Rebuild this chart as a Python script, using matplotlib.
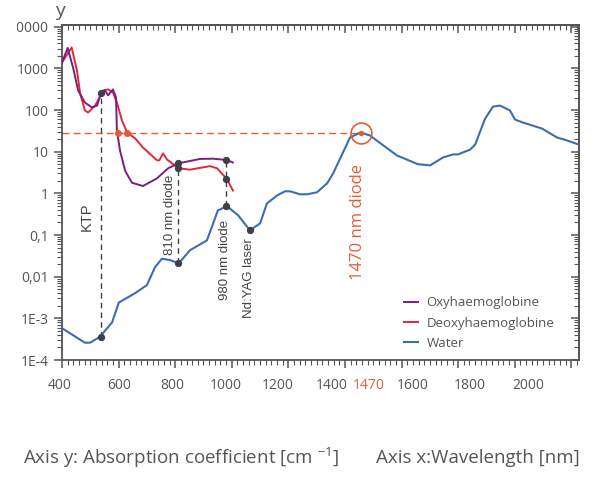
import numpy as np
import matplotlib
matplotlib.use("Agg")
import matplotlib.pyplot as plt
from matplotlib.ticker import FixedLocator, MultipleLocator, NullFormatter, LogLocator
from matplotlib.transforms import Bbox

plt.rcParams['font.family'] = ['Open Sans', 'DejaVu Sans']
plt.rcParams['mathtext.default'] = 'regular'

# water absorption
water_nm = [400, 481, 499, 534, 577, 601, 633, 658, 700, 729, 753, 782, 813, 852, 881, 912,
            951, 983, 1022, 1064, 1100, 1124, 1160, 1188, 1206, 1241, 1266, 1301, 1337, 1358,
            1393, 1418, 1455, 1488, 1584, 1658, 1701, 1747, 1782, 1799, 1842, 1860, 1895,
            1923, 1948, 1983, 2001, 2029, 2096, 2149, 2185, 2227]
water_val = [5.8e-4, 2.6e-4, 2.6e-4, 3.6e-4, 8e-4, 2.4e-3, 3.2e-3, 4e-3, 6.3e-3, 0.017, 0.027,
             0.025, 0.021, 0.043, 0.056, 0.074, 0.39, 0.49, 0.3, 0.13, 0.19, 0.57, 0.89, 1.12,
             1.12, 0.95, 0.95, 1.06, 1.74, 3.0, 9.6, 22, 29, 24.5, 8.1, 5.0, 4.7, 7.3, 8.6, 8.6,
             11.2, 14.8, 62, 121, 128, 98, 59, 50, 36, 22, 18.6, 14.8]

oxy_nm = [400, 420, 439, 457, 481, 506, 524, 537, 552, 563, 580, 591, 594, 605, 623, 647,
          686, 736, 775, 813, 888, 934, 983, 1004]
oxy_val = [1380, 3100, 1050, 295, 151, 115, 128, 250, 295, 225, 313, 201, 32, 10.7, 3.5, 1.8,
           1.5, 2.3, 4.0, 5.3, 6.7, 6.8, 6.3, 5.5]

deoxy_nm = [400, 434, 453, 464, 481, 492, 517, 537, 545, 563, 580, 594, 612, 630, 658, 686,
            736, 744, 757, 771, 813, 852, 923, 948, 983, 1004]
deoxy_val = [1380, 3180, 890, 250, 98, 87, 128, 225, 295, 313, 265, 151, 56, 29, 21, 12.6,
             6.2, 6.2, 9.1, 6.5, 4.0, 3.7, 4.5, 4.0, 2.2, 1.17]

# lasers: wavelength, lower and upper marked values
laser_nm = [537, 810, 980]
laser_lo = [3.6e-4, 0.021, 0.49]
laser_hi = [250, 5.3, 6.3]
extra_nm = [810, 980, 1064]
extra_val = [4.0, 2.2, 0.13]

diode_nm = 1455
diode_val = 28
cross_nm = [598, 630]

yticks = [1e-4, 1e-3, 1e-2, 1e-1, 1, 10, 100, 1000, 10000]
ytick_labels = ["1E-4", "1E-3", "0,01", "0,1", "1", "10", "100", "1000", "10000"]
xtick_labels = ["400", "600", "800", "1000", "1200", "1400", "1470", "1600", "1800", "2000"]
xlabel_at = [393, 601, 789, 980, 1163, 1354, 1485, 1640, 1842, 2047]

grey = "#555555"
dark = "#3f3f48"
orange = "#e45c34"
c_water = "#3c6db3"
c_oxy = "#7a1e80"
c_deoxy = "#db2a3c"

fig = plt.figure(figsize=(6.09, 5.0), dpi=100)
ax = fig.add_axes([62/609, 140/500, 517/609, 335/500])
ax.set_yscale("log")
ax.set_xlim(400, 2227)
ax.set_ylim(1e-4, 1.1e4)

# dashed guides
ax.plot([400, diode_nm], [diode_val, diode_val], ls=(0, (5, 3)), color=orange, lw=1)
for n, lo, hi in zip(laser_nm, laser_lo, laser_hi):
    ax.plot([n, n], [lo, hi], ls=(0, (4, 3)), color=dark, lw=1)

ax.plot(water_nm, water_val, color=c_water, lw=1.5, label="Water", zorder=3)
ax.plot(deoxy_nm, deoxy_val, color=c_deoxy, lw=1.4, label="Deoxyhaemoglobine", zorder=3)
ax.plot(oxy_nm, oxy_val, color=c_oxy, lw=1.4, label="Oxyhaemoglobine", zorder=3)

ax.scatter(laser_nm + laser_nm + extra_nm, laser_lo + laser_hi + extra_val, s=18, color=dark, zorder=5)
ax.scatter(cross_nm, [diode_val] * 2, s=16, color=orange, zorder=5)
ax.scatter([diode_nm], [diode_val], s=8, color=orange, zorder=5)
ax.plot([diode_nm], [diode_val], marker="o", ms=15, mfc="none", mec=orange, mew=1.2, zorder=5)

# annotations
ax.text(488, 0.27, "KTP", rotation=90, ha="center", va="center", color="#444444",
        fontsize=10.5, family="Liberation Sans")
ax.text(782, 0.30, "810 nm diode", rotation=90, ha="center", va="center", color="#444444",
        fontsize=9.5, family="Liberation Sans")
ax.text(975, 0.025, "980 nm diode", rotation=90, ha="center", va="center", color="#444444",
        fontsize=9.5, family="Liberation Sans")
ax.text(1060, 0.0091, "Nd:YAG laser", rotation=90, ha="center", va="center", color="#444444",
        fontsize=9.5, family="Liberation Sans")
ax.text(1447, 0.21, "1470 nm diode", rotation=90, ha="center", va="center", color=orange,
        fontsize=12)

# axes styling
for s in ax.spines.values():
    s.set_color(grey)
    s.set_linewidth(1.3)
ax.yaxis.set_major_locator(FixedLocator(yticks))
ax.set_yticklabels(ytick_labels)
ax.yaxis.set_minor_locator(LogLocator(base=10, subs=np.arange(2, 10), numticks=20))
ax.yaxis.set_minor_formatter(NullFormatter())
ax.xaxis.set_major_locator(MultipleLocator(200))
ax.xaxis.set_minor_locator(MultipleLocator(20))
ax.set_xticklabels([])
ax.tick_params(axis="both", which="both", colors=grey, labelcolor=grey, labelsize=10,
               direction="out")
ax.tick_params(axis="both", which="major", length=6, width=1.1)
ax.tick_params(axis="both", which="minor", length=3.5, width=0.8)
ax.xaxis.get_major_ticks()[5].tick1line.set_color(orange)

# top and right ticks point inward
secx = ax.secondary_xaxis("top")
secx.xaxis.set_major_locator(MultipleLocator(200))
secx.xaxis.set_minor_locator(MultipleLocator(20))
secx.tick_params(which="both", direction="in", colors=grey, labeltop=False)
secx.tick_params(which="major", length=6, width=1.1)
secx.tick_params(which="minor", length=3.5, width=0.8)
secx.spines["top"].set_color(grey)
secx.spines["top"].set_linewidth(1.3)
secy = ax.secondary_yaxis("right")
secy.yaxis.set_major_locator(FixedLocator(yticks))
secy.yaxis.set_minor_locator(LogLocator(base=10, subs=np.arange(2, 10), numticks=20))
secy.tick_params(which="both", direction="in", colors=grey, labelright=False)
secy.tick_params(which="major", length=6, width=1.1)
secy.tick_params(which="minor", length=3.5, width=0.8)
secy.spines["right"].set_color(grey)
secy.spines["right"].set_linewidth(1.3)

tr = ax.get_xaxis_transform()
for lab, xp in zip(xtick_labels, xlabel_at):
    ax.text(xp, -0.075, lab, transform=tr, ha="center", va="center", fontsize=10,
            color=orange if lab == "1470" else grey)

ax.legend(loc="lower right", bbox_to_anchor=(0.975, -0.005), frameon=False, fontsize=9.5,
          handlelength=1.1, handletextpad=0.6, labelspacing=0.55, labelcolor=grey,
          reverse=True)

fig.text(60/609, 1 - 11/500, "y", fontsize=14, color=grey, ha="center", va="center")
fig.text(23/609, 1 - 458/500, "Axis y: Absorption coefficient [cm $^{-1}$]", fontsize=13.5,
         color=grey, ha="left", va="center")
fig.text(580/609, 1 - 458/500, "Axis x:Wavelength [nm]", fontsize=13.5,
         color=grey, ha="right", va="center")

# the top label is cut at the left like in the source image
ax.get_yticklabels()[-1].set_clip_box(Bbox.from_extents(17, 0, 609, 500))
ax.get_yticklabels()[-1].set_clip_on(True)

fig.savefig("out.png", dpi=100)
